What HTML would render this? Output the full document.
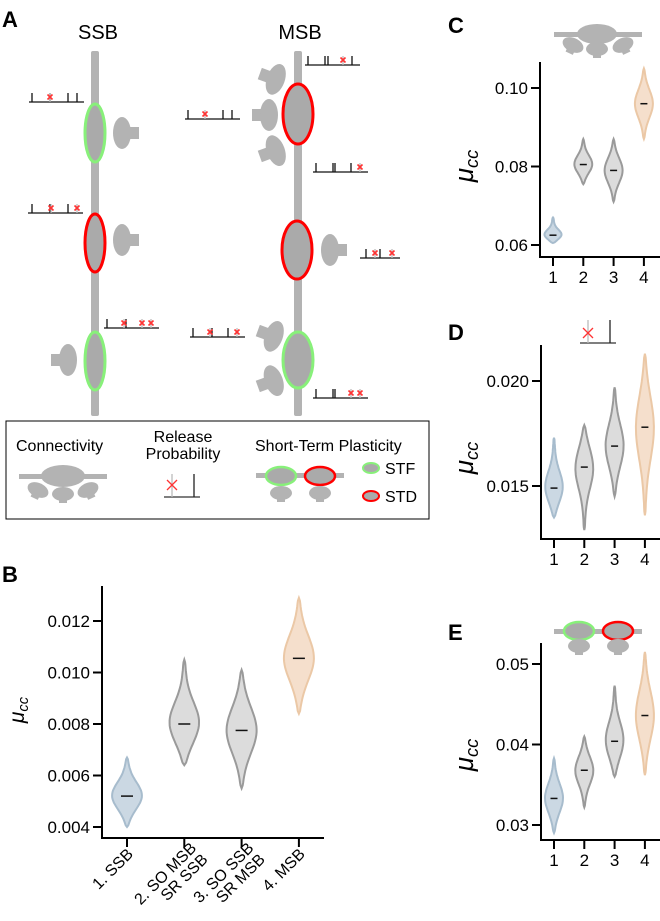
<!DOCTYPE html>
<html><head><meta charset="utf-8"><style>
body{margin:0;background:#fff}
svg{display:block;font-family:"Liberation Sans",sans-serif}
</style></head><body>
<svg id="fig" width="660" height="921" viewBox="0 0 660 921" xmlns="http://www.w3.org/2000/svg">
<defs>
<g id="mush"><rect x="-1" y="-6" width="14" height="12" fill="#b3b3b3"/><ellipse cx="-4" cy="0" rx="9" ry="16" fill="#b3b3b3"/></g>
<g id="mushs"><rect x="-4" y="0" width="8" height="9" fill="#b3b3b3"/><ellipse cx="0" cy="0" rx="11" ry="7" fill="#b3b3b3"/></g>
</defs>
<g>
<text x="2" y="27" font-size="22" font-weight="bold">A</text>
<text x="98" y="39" font-size="20" text-anchor="middle">SSB</text>
<text x="300" y="39" font-size="20" text-anchor="middle">MSB</text>
<rect x="91" y="51" width="8" height="365" rx="2" fill="#b3b3b3"/>
<rect x="294" y="51" width="8" height="365" rx="2" fill="#b3b3b3"/>
<g>
<ellipse cx="95" cy="133" rx="10" ry="29" fill="#aaa" stroke="#88f07a" stroke-width="3"/>
<ellipse cx="95" cy="243" rx="10" ry="29" fill="#aaa" stroke="#f00" stroke-width="3"/>
<ellipse cx="95" cy="361" rx="10" ry="29" fill="#aaa" stroke="#88f07a" stroke-width="3"/>
<use href="#mush" transform="translate(126,133)"/>
<use href="#mush" transform="translate(126,240)"/>
<use href="#mush" transform="translate(64,360) scale(-1,1)"/>
</g>
<g>
<ellipse cx="298" cy="114" rx="15" ry="30" fill="#aaa" stroke="#f00" stroke-width="3"/>
<ellipse cx="297" cy="250" rx="15" ry="29" fill="#aaa" stroke="#f00" stroke-width="3"/>
<ellipse cx="298" cy="360" rx="15" ry="28" fill="#aaa" stroke="#88f07a" stroke-width="3"/>
<use href="#mush" transform="translate(272,78) rotate(200)"/>
<use href="#mush" transform="translate(265,115) scale(-1,1)"/>
<use href="#mush" transform="translate(272,152) rotate(160)"/>
<use href="#mush" transform="translate(334,250)"/>
<use href="#mush" transform="translate(270,335) rotate(200)"/>
<use href="#mush" transform="translate(270,382) rotate(160)"/>
</g>
<g id="trains" stroke-width="1.3"></g>
</g>
<g>
<rect x="6" y="421" width="423" height="98" fill="none" stroke="#000" stroke-width="1"/>
<text x="16" y="451" font-size="16">Connectivity</text>
<text x="183" y="442" font-size="16" text-anchor="middle"><tspan x="183">Release</tspan><tspan x="183" dy="17">Probability</tspan></text>
<text x="255" y="451" font-size="16">Short-Term Plasticity</text>
<g>
<rect x="19" y="474" width="88" height="5" fill="#b3b3b3"/>
<ellipse cx="63" cy="476" rx="22" ry="11" fill="#b3b3b3"/>
<use href="#mushs" transform="translate(63,494)"/>
<use href="#mushs" transform="translate(38,490) rotate(25)"/>
<use href="#mushs" transform="translate(88,490) rotate(-25)"/>
</g>
<g>
<line x1="164" y1="497" x2="200" y2="497" stroke="#333" stroke-width="1.3"/>
<line x1="172" y1="474" x2="172" y2="497" stroke="#bbb" stroke-width="1.3"/>
<path d="M167 480 L177 490 M177 480 L167 490" stroke="#f33" stroke-width="1.3"/>
<line x1="194" y1="474" x2="194" y2="497" stroke="#222" stroke-width="1.3"/>
</g>
<g>
<rect x="256" y="473" width="88" height="5" fill="#b3b3b3"/>
<ellipse cx="281" cy="476" rx="15" ry="9" fill="#aaa" stroke="#88f07a" stroke-width="2.5"/>
<ellipse cx="320" cy="476" rx="15" ry="9" fill="#aaa" stroke="#f00" stroke-width="2.5"/>
<use href="#mushs" transform="translate(281,493)"/>
<use href="#mushs" transform="translate(320,493)"/>
</g>
<ellipse cx="371" cy="468" rx="8" ry="5" fill="#aaa" stroke="#88f07a" stroke-width="2"/>
<text x="385" y="474" font-size="16">STF</text>
<ellipse cx="371" cy="496" rx="8" ry="5" fill="#aaa" stroke="#f00" stroke-width="2"/>
<text x="385" y="502" font-size="16">STD</text>
</g>
<text x="2" y="582" font-size="22" font-weight="bold">B</text>
<text x="448" y="33" font-size="22" font-weight="bold">C</text>
<text x="448" y="340" font-size="22" font-weight="bold">D</text>
<text x="448" y="640" font-size="22" font-weight="bold">E</text>
<g>
<rect x="554" y="32" width="88" height="5" fill="#b3b3b3"/>
<ellipse cx="597" cy="34" rx="20" ry="10" fill="#b3b3b3"/>
<use href="#mushs" transform="translate(597,49)"/>
<use href="#mushs" transform="translate(573,45) rotate(25)"/>
<use href="#mushs" transform="translate(623,45) rotate(-25)"/>
</g>
<g>
<line x1="580" y1="343" x2="616" y2="343" stroke="#333" stroke-width="1.3"/>
<line x1="588" y1="320" x2="588" y2="343" stroke="#bbb" stroke-width="1.3"/>
<path d="M583 328 L593 338 M593 328 L583 338" stroke="#f33" stroke-width="1.3"/>
<line x1="610" y1="320" x2="610" y2="343" stroke="#222" stroke-width="1.3"/>
</g>
<g>
<rect x="554" y="629" width="88" height="5" fill="#b3b3b3"/>
<ellipse cx="579" cy="631" rx="15" ry="9" fill="#aaa" stroke="#88f07a" stroke-width="2.5"/>
<ellipse cx="618" cy="631" rx="15" ry="9" fill="#aaa" stroke="#f00" stroke-width="2.5"/>
<use href="#mushs" transform="translate(579,646)"/>
<use href="#mushs" transform="translate(618,646)"/>
</g>
<g id="charts"></g>
</svg>
<script>
const NS="http://www.w3.org/2000/svg";
function mk(tag,attrs,parent){const e=document.createElementNS(NS,tag);for(const k in attrs)e.setAttribute(k,attrs[k]);parent.appendChild(e);return e;}
const trainStarts=[29,28,104,305,185,313,360,190,313];
const trainYs=[102,213,328,65,119,172,258,337,398];
const trainTicks=[[32,50,68,77],[32,50,68],[107,126],[308,325,328,352],[188,223,232],[316,333,335,351],[366,380],[193,212,228],[316,333,335]];
const trainRed=[[50],[51,77],[124,142,151],[343],[205],[360],[375,392],[210,237],[351,360]];
const tg=document.getElementById('trains');
trainStarts.forEach((x0,i)=>{
  const y=trainYs[i];
  const l=mk('line',{x1:x0,x2:Math.min(x0+55,400),y1:y,y2:y,stroke:'#111'},tg);
  
  
  trainTicks[i].forEach(t=>{const k=mk('line',{x1:t,x2:t,y1:y-9,y2:y,stroke:'#111'},tg);
    
    });
  trainRed[i].forEach(t=>{mk('line',{x1:t,x2:t,y1:y-9,y2:y,stroke:'#bbb'},tg);
    const r=mk('path',{d:`M${t-2.5} ${y-7.5}L${t+2.5} ${y-2.5}M${t+2.5} ${y-7.5}L${t-2.5} ${y-2.5}`,stroke:'#f33','stroke-width':1.6},tg);
    
    });
});

const bMins=[0.0040,0.0064,0.0055,0.0084];
const bMaxs=[0.0067,0.0105,0.0101,0.0129];
const bMeds=[0.0052,0.0080,0.00775,0.01055];
const bTicks=[0.004,0.006,0.008,0.010,0.012];
const bTickLabels=["0.004","0.006","0.008","0.010","0.012"];
const bCats=["1. SSB","2. SO MSB|SR SSB","3. SO SSB|SR MSB","4. MSB"];
const cMins=[0.0605,0.0755,0.071,0.087];
const cMaxs=[0.067,0.087,0.087,0.105];
const cMeds=[0.0625,0.0805,0.079,0.096];
const cTicks=[0.06,0.08,0.10];
const cTickLabels=["0.06","0.08","0.10"];
const dMins=[0.0135,0.0129,0.0145,0.0136];
const dMaxs=[0.0173,0.0179,0.0197,0.0213];
const dMeds=[0.0149,0.0159,0.0169,0.0178];
const dTicks=[0.015,0.020];
const dTickLabels=["0.015","0.020"];
const eMins=[0.029,0.0322,0.036,0.0362];
const eMaxs=[0.0383,0.041,0.0473,0.0515];
const eMeds=[0.0333,0.0368,0.0404,0.0436];
const eTicks=[0.03,0.04,0.05];
const eTickLabels=["0.03","0.04","0.05"];
const numCats=["1","2","3","4"];

const fills=['#cbd8e3','#dcdcdc','#dcdcdc','#f5dfcc'];
const strokes=['#a7bccd','#9a9a9a','#9a9a9a','#ebc8a6'];

function chart(o){
  const g=mk('g',{},document.getElementById('charts'));
  
  
  const y=v=>o.y0+(v-o.v0)*(o.y1-o.y0)/(o.v1-o.v0);
  const x=i=>o.xs0+i*o.dx;
  o.mins.forEach((mn,i)=>{
    const mx=o.maxs[i],md=o.meds[i],sig=(mx-mn)/5;
    let L=[],R=[];const N=40;
    for(let k=0;k<=N;k++){const v=mn+(mx-mn)*k/N;
      const taper=Math.sin(Math.PI*k/N)**0.35;
      const w=o.hw*(0.12+0.88*Math.exp(-0.5*((v-md)/sig)**2))*taper;
      R.push(`${(x(i)+w).toFixed(1)},${y(v).toFixed(1)}`);L.unshift(`${(x(i)-w).toFixed(1)},${y(v).toFixed(1)}`);}
    const p=mk('polygon',{points:R.concat(L).join(' '),fill:fills[i],stroke:strokes[i],'stroke-width':o.sw},g);
    
    
    const m=mk('line',{x1:x(i)-o.mw,x2:x(i)+o.mw,y1:y(md),y2:y(md),stroke:'#111','stroke-width':1.5},g);
    
    
  });
  const ya=mk('line',{x1:o.ax,x2:o.ax,y1:o.top,y2:o.bot+1,stroke:'#000','stroke-width':2},g);
  
  
  const xa=mk('line',{x1:o.ax-1,x2:o.right,y1:o.bot,y2:o.bot,stroke:'#000','stroke-width':2},g);
  
  
  o.ticks.forEach((t,i)=>{
    mk('line',{x1:o.ax-9,x2:o.ax,y1:y(t),y2:y(t),stroke:'#000','stroke-width':2},g);
    const tx=mk('text',{x:o.ax-12,y:y(t)+6,'font-size':o.fs,'text-anchor':'end'},g);
    tx.textContent=o.tl[i];
    
    
  });
  o.cats.forEach((c,i)=>{
    mk('line',{x1:x(i),x2:x(i),y1:o.bot,y2:o.bot+9,stroke:'#000','stroke-width':2},g);
    if(o.rot){
      const parts=c.split('|');
      const tx=mk('text',{'font-size':o.cfs,'text-anchor':'end',transform:`translate(${x(i)+7},${o.bot+17}) rotate(-45)`},g);
      parts.forEach((p,j)=>{const ts=mk('tspan',{x:0,dy:j?16:0},tx);ts.textContent=p;});
      if(parts.length>1){tx.setAttribute('transform',`translate(${x(i)+13},${o.bot+11}) rotate(-45)`);}
      
      
    } else {
      const tx=mk('text',{x:x(i),y:o.bot+26,'font-size':o.fs,'text-anchor':'middle'},g);
      tx.textContent=c;
      
      
    }
  });
  const lab=mk('text',{'font-size':o.lfs,'font-style':'italic','text-anchor':'middle',transform:`translate(${o.lx},${o.ly}) rotate(-90)`},g);
  lab.innerHTML=`μ<tspan font-size="${o.lfs*0.7}" dy="${o.lfs*0.2}">cc</tspan>`;
  
  
}
chart({name:'chart-b',mins:bMins,maxs:bMaxs,meds:bMeds,ticks:bTicks,tl:bTickLabels,cats:bCats,rot:true,
  v0:0.004,y0:827,v1:0.012,y1:621,xs0:127,dx:57.3,hw:15,mw:6,sw:2,ax:102,top:586,bot:838,right:324,fs:17,cfs:16,lfs:21,lx:24,ly:710});
chart({name:'chart-c',mins:cMins,maxs:cMaxs,meds:cMeds,ticks:cTicks,tl:cTickLabels,cats:numCats,
  v0:0.06,y0:245,v1:0.10,y1:88,xs0:553,dx:30.3,hw:9,mw:3.5,sw:2,ax:540,top:62,bot:257,right:660,fs:17,lfs:26,lx:473,ly:166});
chart({name:'chart-d',mins:dMins,maxs:dMaxs,meds:dMeds,ticks:dTicks,tl:dTickLabels,cats:numCats,
  v0:0.015,y0:486,v1:0.020,y1:381,xs0:554,dx:30.3,hw:9,mw:3.5,sw:2,ax:541,top:345,bot:539,right:660,fs:17,lfs:26,lx:473,ly:458});
chart({name:'chart-e',mins:eMins,maxs:eMaxs,meds:eMeds,ticks:eTicks,tl:eTickLabels,cats:numCats,
  v0:0.03,y0:825,v1:0.05,y1:664,xs0:554,dx:30.3,hw:9,mw:3.5,sw:2,ax:541,top:643,bot:840,right:660,fs:17,lfs:26,lx:473,ly:755});
</script>
</body></html>
